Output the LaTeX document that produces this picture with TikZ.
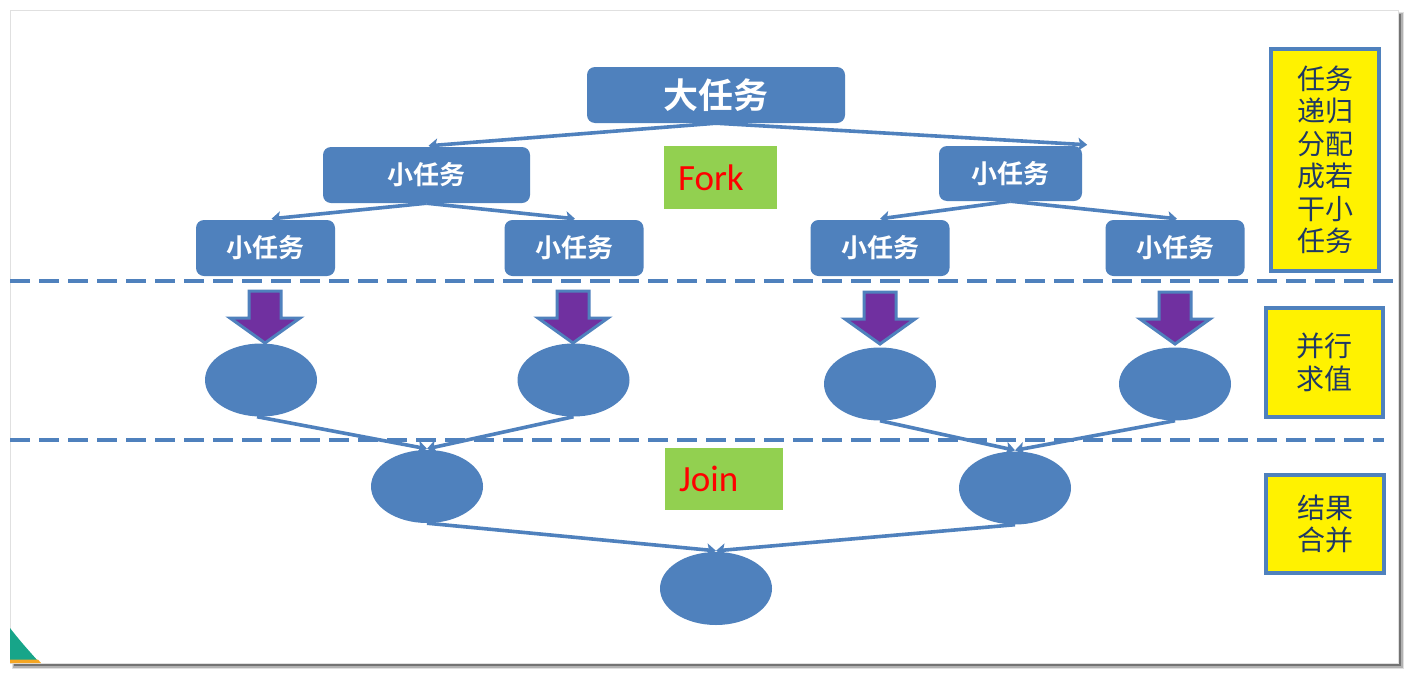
\documentclass[tikz,border=0pt]{standalone}
\usepackage{fontspec}
\usetikzlibrary{arrows.meta}
\newfontfamily\cjk{Noto Sans CJK SC}
\newfontfamily\cjkbold{Noto Sans CJK SC Bold}
\newfontfamily\calib{Carlito}
\definecolor{pblue}{HTML}{4F81BD}
\definecolor{pgreen}{HTML}{92D050}
\definecolor{ppurple}{HTML}{7030A0}
\definecolor{pnavy}{HTML}{1F3864}
\definecolor{pteal}{HTML}{17A589}
\definecolor{porange}{HTML}{F5A623}
\tikzset{
  task/.style={rectangle, rounded corners=8pt, fill=pblue, draw=none, text=white,
    font=\cjkbold\fontsize{26}{28}\selectfont, inner sep=0pt},
  bigtask/.style={task, font=\cjkbold\fontsize{35}{38}\selectfont},
  conn/.style={draw=pblue, line width=3.6pt, -{Stealth[width=13pt,length=9pt,inset=2pt]}},
  ball/.style={ellipse, fill=pblue, draw=none, minimum width=112pt, minimum height=73pt, inner sep=0pt},
  tag/.style={rectangle, fill=pgreen, text=red, font=\calib\fontsize{37}{40}\selectfont,
    inner sep=0pt, text width=#1, align=left},
  sidebox/.style={rectangle, fill=yellow, draw=pblue, line width=3.5pt, text=pnavy,
    font=\cjk\fontsize{28}{32.5}\selectfont, align=center, inner sep=0pt},
  sep/.style={draw=pblue, line width=3.5pt, dash pattern=on 20pt off 9pt},
  blockarrow/.pic={\draw[fill=ppurple, draw=pblue, line width=3pt, line join=miter]
      (-16,0) -- (16,0) -- (16,27) -- (35,27) -- (0,52) -- (-35,27) -- (-16,27) -- cycle;}
}
\usetikzlibrary{shapes.geometric}
\begin{document}
\begin{tikzpicture}[x=1pt,y=-1pt]
\useasboundingbox (0,0) rectangle (1410,675);
\fill[white] (0,0) rectangle (1410,675);
% slide shadow and frame
\fill[black!12] (12,12) rectangle (1404,669);
\fill[black!30] (13,13) rectangle (1403,668);
\fill[black!55] (14,14) rectangle (1401,666);
\fill[white, draw=black!12, line width=0.8pt] (10,10) rectangle (1398,663);
% corner decoration
\fill[pteal] (10,628) .. controls (20,641) and (30,652) .. (38,661) -- (10,661) -- cycle;
\fill[porange] (10,659.5) -- (38,659.5) -- (41,663) -- (10,663) -- cycle;

% dashed separators
\coordinate (s1a) at (10,281); \coordinate (s1b) at (1398,281);
\coordinate (s2a) at (10,440); \coordinate (s2b) at (1384,440);
\draw[sep] (s1a) -- (s1b);
\draw[sep] (s2a) -- (s2b);

% task tree
\node[bigtask, minimum width=258pt, minimum height=56pt] (T) at (716,95) {大任务};
\node[task, minimum width=207pt, minimum height=56pt] (L) at (426.5,175) {小任务};
\node[task, minimum width=143pt, minimum height=55pt] (R) at (1010.5,173.5) {小任务};
\node[task, minimum width=139pt, minimum height=56pt] (LL) at (265.5,248) {小任务};
\node[task, minimum width=139pt, minimum height=56pt] (LR) at (574,248) {小任务};
\node[task, minimum width=139pt, minimum height=56pt] (RL) at (880,248) {小任务};
\node[task, minimum width=139pt, minimum height=56pt] (RR) at (1175,248) {小任务};

\draw[conn] (T.south) -- ([xshift=2pt,yshift=1pt]L.north);
\draw[conn] (T.south) -- ([xshift=5pt,yshift=1pt]R.north east);
\draw[conn] (L.south) -- ([xshift=6pt,yshift=1pt]LL.north);
\draw[conn] (L.south) -- ([xshift=1pt,yshift=1pt]LR.north);
\draw[conn] (R.south) -- ([yshift=1pt]RL.north);
\draw[conn] (R.south) -- ([xshift=2pt,yshift=1pt]RR.north);

% labels
\node[tag=85pt, minimum width=113pt, minimum height=63pt] (fork) at (720.5,177.5) {Fork};
\node[tag=90pt, minimum width=118pt, minimum height=62pt] (join) at (724,479) {Join};

% block arrows
\pic at (265,291) {blockarrow};
\pic at (573,291) {blockarrow};
\pic at (880,292) {blockarrow};
\pic at (1175,292) {blockarrow};

% ellipses
\node[ball] (E1) at (261,380) {};
\node[ball] (E2) at (573.5,380) {};
\node[ball] (E3) at (880,384) {};
\node[ball] (E4) at (1175,384) {};
\node[ball] (M1) at (427,486.5) {};
\node[ball] (M2) at (1015,488) {};
\node[ball] (F) at (716,588.5) {};

\draw[conn] ([xshift=-4pt]E1.south) -- ([yshift=1pt]M1.north);
\draw[conn] (E2.south) -- ([yshift=1pt]M1.north);
\draw[conn] (E3.south) -- ([yshift=1pt]M2.north);
\draw[conn] (E4.south) -- ([yshift=1pt]M2.north);
\draw[conn] (M1.south) -- ([yshift=1pt]F.north);
\draw[conn] (M2.south) -- ([yshift=1pt]F.north);

% side boxes
\node[sidebox, minimum width=108pt, minimum height=222pt] (Y1) at (1325,160)
  {任务\\递归\\分配\\成若\\干小\\任务};
\node[sidebox, minimum width=117pt, minimum height=109pt] (Y2) at (1324.5,362.5)
  {并行\\求值};
\node[sidebox, minimum width=118pt, minimum height=98pt] (Y3) at (1325,524)
  {结果\\合并};
\end{tikzpicture}
\end{document}
